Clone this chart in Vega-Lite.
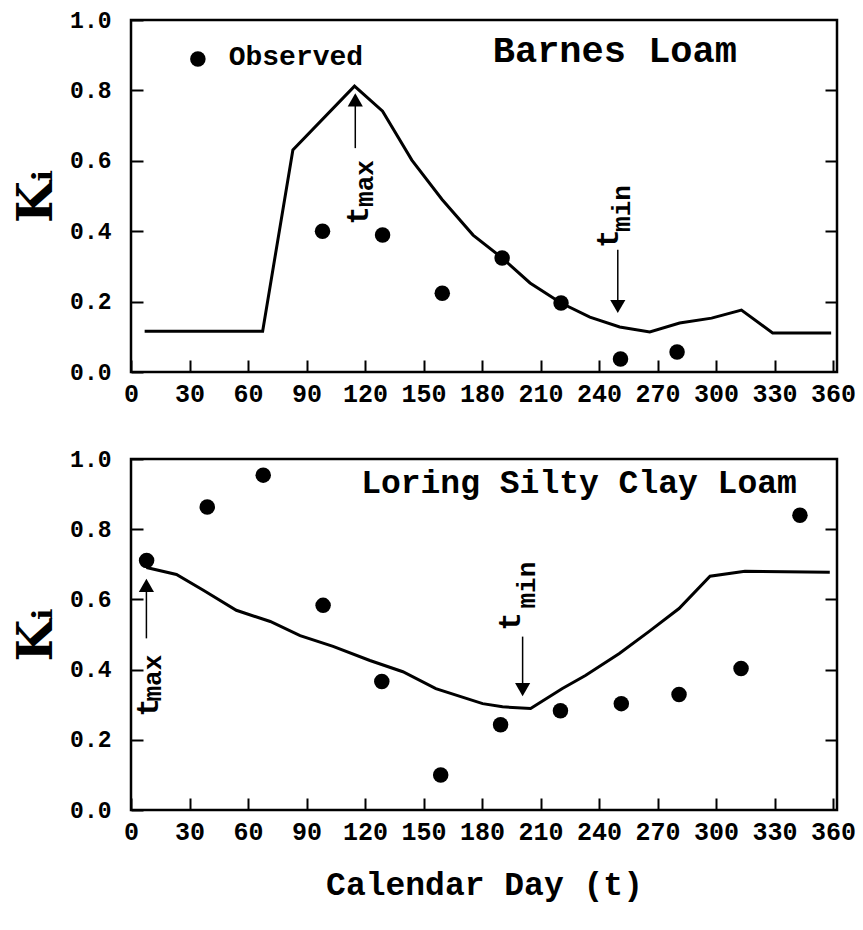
{
  "$schema": "https://vega.github.io/schema/vega-lite/v6.json",
  "background": "white",
  "padding": {"left": 12, "top": 7, "right": 5, "bottom": 5},
  "spacing": 38,
  "config": {
    "view": {"stroke": "black", "strokeWidth": 2.5},
    "font": "Liberation Mono",
    "axis": {"domain": false, "grid": false, "zindex": 1, "labelFont": "Liberation Mono", "labelFontWeight": "bold", "labelColor": "black", "tickColor": "black", "tickWidth": 2, "titleColor": "black", "labelOverlap": false}
  },
  "datasets": {
    "barnes_model": [
      {"day": 7, "k": 0.116}, {"day": 67.5, "k": 0.116}, {"day": 83, "k": 0.631}, {"day": 114.6, "k": 0.812},
      {"day": 129, "k": 0.741}, {"day": 144, "k": 0.602}, {"day": 159.5, "k": 0.49}, {"day": 175.4, "k": 0.389},
      {"day": 190.3, "k": 0.324}, {"day": 204.6, "k": 0.253}, {"day": 220.5, "k": 0.196}, {"day": 235.3, "k": 0.156},
      {"day": 250.6, "k": 0.128}, {"day": 266, "k": 0.114}, {"day": 281.3, "k": 0.139}, {"day": 297.7, "k": 0.153},
      {"day": 313, "k": 0.176}, {"day": 329, "k": 0.111}, {"day": 359, "k": 0.111}
    ],
    "barnes_obs": [
      {"day": 98.2, "k": 0.4}, {"day": 129, "k": 0.389}, {"day": 159.6, "k": 0.224}, {"day": 190.3, "k": 0.324},
      {"day": 220.5, "k": 0.196}, {"day": 251, "k": 0.037}, {"day": 280, "k": 0.057}
    ],
    "loring_model": [
      {"day": 7.9, "k": 0.691}, {"day": 23.3, "k": 0.671}, {"day": 37.1, "k": 0.626}, {"day": 54, "k": 0.569},
      {"day": 71.4, "k": 0.537}, {"day": 86.7, "k": 0.497}, {"day": 103.6, "k": 0.466}, {"day": 122.5, "k": 0.426},
      {"day": 139.4, "k": 0.394}, {"day": 156.3, "k": 0.346}, {"day": 180.3, "k": 0.303}, {"day": 190.5, "k": 0.294},
      {"day": 204.9, "k": 0.289}, {"day": 221.2, "k": 0.346}, {"day": 233, "k": 0.383}, {"day": 250.4, "k": 0.446},
      {"day": 265.7, "k": 0.509}, {"day": 281, "k": 0.574}, {"day": 296.9, "k": 0.666}, {"day": 314.8, "k": 0.68},
      {"day": 358.3, "k": 0.677}
    ],
    "loring_obs": [
      {"day": 8, "k": 0.711}, {"day": 39.1, "k": 0.863}, {"day": 67.8, "k": 0.954}, {"day": 98.5, "k": 0.583},
      {"day": 128.6, "k": 0.366}, {"day": 158.8, "k": 0.1}, {"day": 189.5, "k": 0.243}, {"day": 220.2, "k": 0.283},
      {"day": 251.4, "k": 0.303}, {"day": 281, "k": 0.329}, {"day": 312.8, "k": 0.403}, {"day": 343, "k": 0.84}
    ]
  },
  "vconcat": [
    {
      "width": 706,
      "height": 352,
      "resolve": {"axis": {"y": "independent"}},
      "layer": [
        {
          "data": {"name": "barnes_model"},
          "mark": {"type": "line", "color": "black", "strokeWidth": 3},
          "encoding": {
            "x": {"field": "day", "type": "quantitative", "scale": {"domain": [0, 362], "nice": false},
              "axis": {"values": [0, 30, 60, 90, 120, 150, 180, 210, 240, 270, 300, 330, 360], "tickSize": -12, "labelPadding": 21, "labelFontSize": 25, "labelFlush": false, "title": null}},
            "y": {"field": "k", "type": "quantitative", "scale": {"domain": [0, 1], "nice": false},
              "axis": {"orient": "left", "values": [0, 0.2, 0.4, 0.6, 0.8, 1.0], "format": ".1f", "tickSize": -12, "labelPadding": 32, "labelFontSize": 23, "title": "Kᵢ", "titleFont": "DejaVu Serif", "titleFontSize": 48, "titleFontWeight": "bold", "titlePadding": 8}}
          }
        },
        {
          "data": {"name": "barnes_obs"},
          "mark": {"type": "circle", "color": "black", "size": 240, "opacity": 1},
          "encoding": {
            "x": {"field": "day", "type": "quantitative"},
            "y": {"field": "k", "type": "quantitative",
              "axis": {"orient": "right", "values": [0.2, 0.4, 0.6, 0.8], "labels": false, "tickSize": -12, "title": null}}
          }
        },
        {
          "data": {"values": [{"day": 115, "from": 0.636, "to": 0.773}, {"day": 249.6, "from": 0.347, "to": 0.186}]},
          "mark": {"type": "rule", "color": "black", "strokeWidth": 1.5},
          "encoding": {
            "x": {"field": "day", "type": "quantitative"},
            "y": {"field": "from", "type": "quantitative", "axis": null},
            "y2": {"field": "to"}
          }
        },
        {
          "data": {"values": [{"day": 115, "k": 0.773, "dir": "up"}, {"day": 249.6, "k": 0.186, "dir": "down"}]},
          "mark": {"type": "point", "filled": true, "color": "black", "size": 230, "opacity": 1},
          "encoding": {
            "x": {"field": "day", "type": "quantitative"},
            "y": {"field": "k", "type": "quantitative", "axis": null},
            "shape": {"field": "dir", "type": "nominal", "scale": {"domain": ["up", "down"], "range": ["triangle-up", "triangle-down"]}, "legend": null}
          }
        },
        {
          "data": {"values": [{"day": 121.7, "k": 0.418, "label": "t"}, {"day": 249.6, "k": 0.352, "label": "t"}]},
          "mark": {"type": "text", "angle": 270, "align": "left", "baseline": "alphabetic", "fontSize": 31, "fontWeight": "bold", "color": "black"},
          "encoding": {
            "x": {"field": "day", "type": "quantitative"},
            "y": {"field": "k", "type": "quantitative", "axis": null},
            "text": {"field": "label"}
          }
        },
        {
          "data": {"values": [{"day": 124.3, "k": 0.469, "label": "max"}, {"day": 255.8, "k": 0.398, "label": "min"}]},
          "mark": {"type": "text", "angle": 270, "align": "left", "baseline": "alphabetic", "fontSize": 26, "fontWeight": "bold", "color": "black"},
          "encoding": {
            "x": {"field": "day", "type": "quantitative"},
            "y": {"field": "k", "type": "quantitative", "axis": null},
            "text": {"field": "label"}
          }
        },
        {
          "data": {"values": [{"day": 248.1, "k": 0.881, "label": "Barnes Loam"}]},
          "mark": {"type": "text", "align": "center", "baseline": "alphabetic", "fontSize": 37, "fontWeight": "bold", "color": "black"},
          "encoding": {
            "x": {"field": "day", "type": "quantitative"},
            "y": {"field": "k", "type": "quantitative", "axis": null},
            "text": {"field": "label"}
          }
        },
        {
          "data": {"values": [{"day": 34.3, "k": 0.889}]},
          "mark": {"type": "circle", "color": "black", "size": 240, "opacity": 1},
          "encoding": {
            "x": {"field": "day", "type": "quantitative"},
            "y": {"field": "k", "type": "quantitative", "axis": null}
          }
        },
        {
          "data": {"values": [{"day": 50.1, "k": 0.872, "label": "Observed"}]},
          "mark": {"type": "text", "align": "left", "baseline": "alphabetic", "fontSize": 28, "fontWeight": "bold", "color": "black"},
          "encoding": {
            "x": {"field": "day", "type": "quantitative"},
            "y": {"field": "k", "type": "quantitative", "axis": null},
            "text": {"field": "label"}
          }
        }
      ]
    },
    {
      "width": 706,
      "height": 351,
      "resolve": {"axis": {"y": "independent"}},
      "layer": [
        {
          "data": {"name": "loring_model"},
          "mark": {"type": "line", "color": "black", "strokeWidth": 3},
          "encoding": {
            "x": {"field": "day", "type": "quantitative", "scale": {"domain": [0, 362], "nice": false},
              "axis": {"values": [0, 30, 60, 90, 120, 150, 180, 210, 240, 270, 300, 330, 360], "tickSize": -12, "labelPadding": 21, "labelFontSize": 25, "labelFlush": false, "title": "Calendar Day (t)", "titleFont": "Liberation Mono", "titleFontSize": 33, "titleFontWeight": "bold", "titlePadding": 24}},
            "y": {"field": "k", "type": "quantitative", "scale": {"domain": [0, 1], "nice": false},
              "axis": {"orient": "left", "values": [0, 0.2, 0.4, 0.6, 0.8, 1.0], "format": ".1f", "tickSize": -12, "labelPadding": 32, "labelFontSize": 23, "title": "Kᵢ", "titleFont": "DejaVu Serif", "titleFontSize": 48, "titleFontWeight": "bold", "titlePadding": 8}}
          }
        },
        {
          "data": {"name": "loring_obs"},
          "mark": {"type": "circle", "color": "black", "size": 240, "opacity": 1},
          "encoding": {
            "x": {"field": "day", "type": "quantitative"},
            "y": {"field": "k", "type": "quantitative",
              "axis": {"orient": "right", "values": [0.2, 0.4, 0.6, 0.8], "labels": false, "tickSize": -12, "title": null}}
          }
        },
        {
          "data": {"values": [{"day": 7.9, "from": 0.489, "to": 0.64}, {"day": 200.8, "from": 0.494, "to": 0.343}]},
          "mark": {"type": "rule", "color": "black", "strokeWidth": 1.5},
          "encoding": {
            "x": {"field": "day", "type": "quantitative"},
            "y": {"field": "from", "type": "quantitative", "axis": null},
            "y2": {"field": "to"}
          }
        },
        {
          "data": {"values": [{"day": 7.9, "k": 0.64, "dir": "up"}, {"day": 200.8, "k": 0.343, "dir": "down"}]},
          "mark": {"type": "point", "filled": true, "color": "black", "size": 230, "opacity": 1},
          "encoding": {
            "x": {"field": "day", "type": "quantitative"},
            "y": {"field": "k", "type": "quantitative", "axis": null},
            "shape": {"field": "dir", "type": "nominal", "scale": {"domain": ["up", "down"], "range": ["triangle-up", "triangle-down"]}, "legend": null}
          }
        },
        {
          "data": {"values": [{"day": 14.1, "k": 0.266, "label": "t"}, {"day": 199.7, "k": 0.511, "label": "t"}]},
          "mark": {"type": "text", "angle": 270, "align": "left", "baseline": "alphabetic", "fontSize": 31, "fontWeight": "bold", "color": "black"},
          "encoding": {
            "x": {"field": "day", "type": "quantitative"},
            "y": {"field": "k", "type": "quantitative", "axis": null},
            "text": {"field": "label"}
          }
        },
        {
          "data": {"values": [{"day": 15.6, "k": 0.309, "label": "max"}, {"day": 207.4, "k": 0.574, "label": "min"}]},
          "mark": {"type": "text", "angle": 270, "align": "left", "baseline": "alphabetic", "fontSize": 26, "fontWeight": "bold", "color": "black"},
          "encoding": {
            "x": {"field": "day", "type": "quantitative"},
            "y": {"field": "k", "type": "quantitative", "axis": null},
            "text": {"field": "label"}
          }
        },
        {
          "data": {"values": [{"day": 229.7, "k": 0.903, "label": "Loring Silty Clay Loam"}]},
          "mark": {"type": "text", "align": "center", "baseline": "alphabetic", "fontSize": 33, "fontWeight": "bold", "color": "black"},
          "encoding": {
            "x": {"field": "day", "type": "quantitative"},
            "y": {"field": "k", "type": "quantitative", "axis": null},
            "text": {"field": "label"}
          }
        }
      ]
    }
  ]
}
